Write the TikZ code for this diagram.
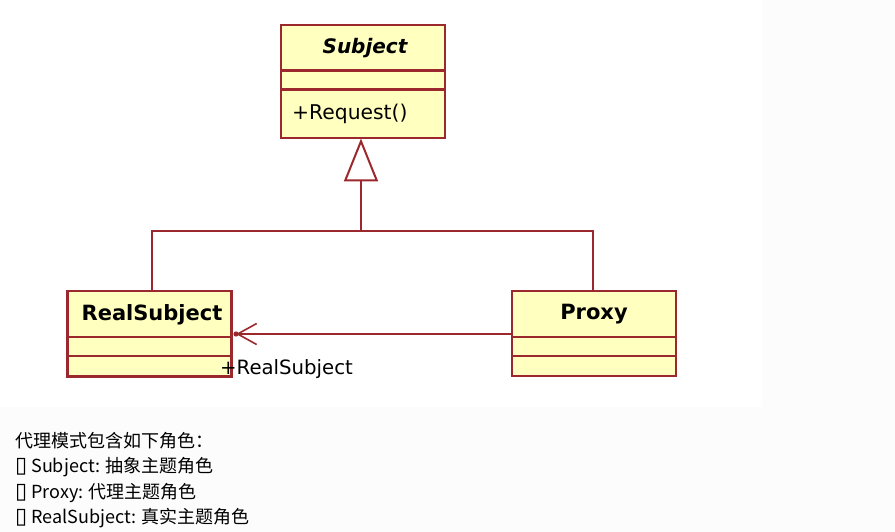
\documentclass[tikz,border=0pt]{standalone}
\usepackage{fontspec}
\setmainfont{DejaVu Sans}
\newfontfamily\cjkfont{Noto Sans CJK SC}
\newfontfamily\dvfont{DejaVu Sans}
\newcommand\tofuglyph{{\dvfont\fontsize{22}{21}\selectfont ▯}}
\usetikzlibrary{arrows.meta}
\definecolor{umlborder}{RGB}{155,40,45}
\definecolor{umlfill}{RGB}{255,255,192}
\definecolor{pagebg}{RGB}{252,252,252}
\tikzset{
  umlbox/.style={draw=umlborder, fill=umlfill, line width=2.3pt, minimum width=164pt, inner sep=0pt, outer sep=0pt},
  divider/.style={draw=umlborder, line width=2.3pt},
  classname/.style={font=\fontsize{21}{25}\selectfont\bfseries, inner sep=0pt},
  member/.style={font=\fontsize{20.3}{24}\selectfont, inner sep=0pt, anchor=west},
  conn/.style={draw=umlborder, line width=2.2pt},
  bodytext/.style={font=\cjkfont\fontsize{18}{21}\selectfont, anchor=west, inner sep=0pt},
}
\begin{document}
\begin{tikzpicture}[x=1pt,y=-1pt]
\useasboundingbox (0,0) rectangle (895,532);
\fill[pagebg] (0,0) rectangle (895,532);
\fill[white] (0,0) rectangle (762,407);
% Subject
\node[umlbox, minimum height=113pt] (subj) at (363,81.5) {};
\draw[divider] (subj.west |- 0,70.5) -- (subj.east |- 0,70.5);
\draw[divider] (subj.west |- 0,89.5) -- (subj.east |- 0,89.5);
\node[classname, font=\fontsize{20}{24}\selectfont\bfseries\itshape] (subjname) at (365,48.5) {Subject};
\node[member] (req) at (292,113.5) {+Request()};
% RealSubject
\node[umlbox, minimum height=85.5pt] (rs) at (149.5,333.75) {};
\draw[divider] (rs.west |- 0,337) -- (rs.east |- 0,337);
\draw[divider] (rs.west |- 0,356) -- (rs.east |- 0,356);
\node[classname] (rsname) at (152,314.5) {RealSubject};
% Proxy
\node[umlbox, minimum height=85pt] (proxy) at (594,333.5) {};
\draw[divider] (proxy.west |- 0,337) -- (proxy.east |- 0,337);
\draw[divider] (proxy.west |- 0,356) -- (proxy.east |- 0,356);
\node[classname] (proxyname) at (594,314.5) {Proxy};
% generalization
\coordinate (joint) at (361,231);
\draw[conn] ([xshift=2.5pt]rs.north) |- (joint) -| ([xshift=-1pt]proxy.north);
\draw[conn, -{Triangle[open, length=43pt, width=34pt, line width=2pt, fill=white]}] (joint) -- (361,138.5);
% association
\coordinate (assoctip) at (236,334);
\draw[conn, -{Straight Barb[length=19pt, width=21pt, line width=1.6pt]}] (proxy.west |- assoctip) -- (assoctip);
\fill[umlborder] (assoctip) circle (2.6pt);
\node[member, font=\fontsize{19.7}{23}\selectfont] (rolename) at (220,369) {+RealSubject};
% text
\node[bodytext] (l1) at (15,441) {代理模式包含如下角色：};
\node[bodytext] (l2) at (15,467) {\tofuglyph{} Subject: 抽象主题角色};
\node[bodytext] (l3) at (15,493) {\tofuglyph{} Proxy: 代理主题角色};
\node[bodytext] (l4) at (15,518) {\tofuglyph{} RealSubject: 真实主题角色};
\end{tikzpicture}
\end{document}
